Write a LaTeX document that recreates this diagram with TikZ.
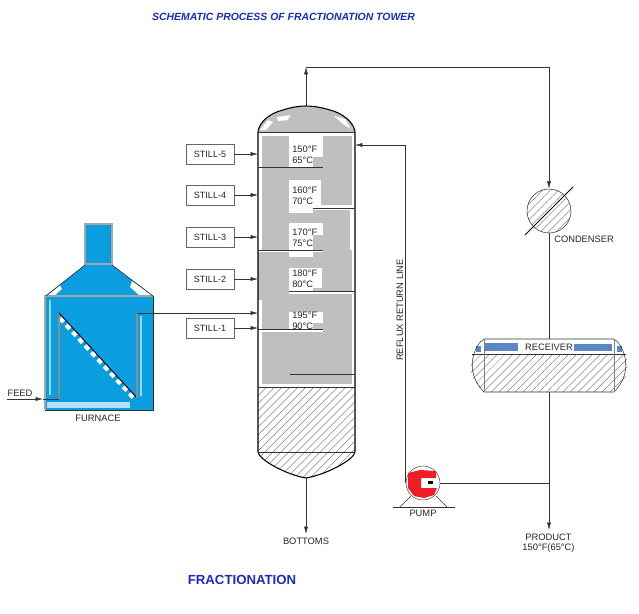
\documentclass[tikz,border=0pt]{standalone}
\usepackage{fontspec}
\setmainfont{Liberation Sans}
\usetikzlibrary{arrows.meta,patterns.meta}
\definecolor{heater}{HTML}{0A9DE0}
\definecolor{stage}{HTML}{BFBFBF}
\definecolor{titleblue}{HTML}{1A2BC4}
\definecolor{drum}{HTML}{5B86C4}
\definecolor{pumpred}{HTML}{EE1C25}
\begin{document}
\begin{tikzpicture}[
  x=0.75pt,y=-0.75pt,
  still/.style={draw=black!60,line width=0.4pt,minimum width=36pt,minimum height=15pt,inner sep=0pt,font=\fontsize{6.8}{7}\selectfont,text=black!85},
  lbl/.style={font=\fontsize{7}{8}\selectfont,text=black!85,inner sep=0pt},
  temp/.style={lbl,align=left,anchor=north west},
  pipe/.style={draw=black!80,line width=0.45pt},
  flow/.style={pipe,-{Latex[length=5.5pt,width=3pt]}},
  vessel/.style={draw=black,line width=0.8pt},
  hatchfill/.style={pattern={Lines[angle=45,distance=4.2pt,line width=0.25pt]},pattern color=black!65},
  gap/.style={fill=white,draw=none},
  tray/.style={draw=black!80,line width=0.5pt},
  title/.style={text=titleblue,inner sep=0pt}
]
  \useasboundingbox (0,0) rectangle (639,614);
  \node[title,font=\fontsize{7.83}{8}\selectfont\bfseries\itshape] (head) at (283.5,17) {SCHEMATIC PROCESS OF FRACTIONATION TOWER};
  \node[title,font=\fontsize{9.9}{11}\selectfont\bfseries] (foot) at (242,580) {FRACTIONATION};

  % tower
  \fill[stage] (258,132) .. controls (259,122) and (270,113) .. (283,110) .. controls (292,107) and (300,106) .. (306,106) .. controls (312,106) and (320,107) .. (330,110) .. controls (342,113) and (354,122) .. (355,132) -- cycle;
  \fill[white] (260,130) -- (268,120) -- (273,122) -- (266,130) -- cycle;
  \fill[white] (277,117) -- (290,115) -- (288,120) -- (278,121) -- cycle;
  \fill[white] (334,116) -- (345,119) -- (351,129) -- (343,124) -- cycle;
  \fill[stage] (262,136) rectangle (352,384);
  \fill[stage] (258,252) rectangle (262,300);
  \fill[gap] (289,136) rectangle (323,157);
  \fill[gap] (289,157) rectangle (313,167);
  \fill[gap] (289,180) rectangle (321,205);
  \fill[gap] (289,205) rectangle (313,213);
  \fill[gap] (289,223) rectangle (323,235);
  \fill[gap] (289,235) rectangle (313,257);
  \fill[gap] (289,268) rectangle (322,288);
  \fill[gap] (289,288) rectangle (313,291);
  \fill[gap] (289,291) rectangle (352,294);
  \fill[gap] (289,312) rectangle (323,323);
  \fill[gap] (289,323) rectangle (313,332);
  \fill[gap] (258,329) rectangle (323,332);
  \fill[gap] (258,250) rectangle (323,252);
  \fill[gap] (313,205) rectangle (352,210);
  \fill[gap] (350,210) rectangle (352,250);
  \fill[hatchfill] (258,387) -- (355,387) -- (355,452) .. controls (354,460) and (325,475) .. (306,478) .. controls (287,475) and (259,460) .. (258,452) -- cycle;
  \draw[vessel] (258,452) -- (258,132) .. controls (259,122) and (270,113) .. (283,110) .. controls (292,107) and (300,106) .. (306,106) .. controls (312,106) and (320,107) .. (330,110) .. controls (342,113) and (354,122) .. (355,132) -- (355,452) .. controls (354,460) and (325,475) .. (306,478) .. controls (287,475) and (259,460) .. (258,452);
  \draw[pipe] (258,132) -- (355,132);
  \draw[pipe,line width=0.3pt] (258,387) -- (355,387);
  \draw[pipe] (258,452) -- (355,452);
  \draw[tray] (258,167) -- (323,167);
  \draw[tray] (313,208) -- (355,208);
  \draw[tray] (258,250) -- (323,250);
  \draw[tray] (289,291) -- (355,291);
  \draw[tray] (258,329) -- (323,329);
  \draw[tray] (290,374) -- (355,374);
  \node[temp] (t5) at (292,146) {150°F\\65°C};
  \node[temp] (t4) at (292,187) {160°F\\70°C};
  \node[temp] (t3) at (292,229) {170°F\\75°C};
  \node[temp] (t2) at (292,270) {180°F\\80°C};
  \node[temp] (t1) at (292,312) {195°F\\90°C};

  % stills
  \node[still] (s5) at (210,154) {STILL-5};
  \node[still] (s4) at (210,195) {STILL-4};
  \node[still] (s3) at (210,237) {STILL-3};
  \node[still] (s2) at (210,279) {STILL-2};
  \node[still] (s1) at (210,328) {STILL-1};
  \coordinate (d5) at (258,154);
  \coordinate (d4) at (258,195);
  \coordinate (d3) at (258,237);
  \coordinate (d2) at (258,279);
  \coordinate (d1) at (258,328);
  \draw[flow] (s5) -- (d5);
  \draw[flow] (s4) -- (d4);
  \draw[flow] (s3) -- (d3);
  \draw[flow] (s2) -- (d2);
  \draw[flow] (s1) -- (d1);

  % furnace
  \fill[heater] (85,224) rectangle (112,265);
  \fill[heater] (85,265) -- (112,265) -- (153,296) -- (153,410) -- (45,410) -- (45,296) -- cycle;
  \fill[white] (46,296) -- (60,285) -- (62,289) -- (54,296) -- cycle;
  \fill[white] (153,296) -- (132,281) -- (130,287) -- (140,296) -- cycle;
  \fill[white!70!heater] (47,402) rectangle (130,408);
  \draw[white!60!heater,line width=1.5pt] (50,300) -- (50,395);
  \draw[white!60!heater,line width=1.5pt] (141,316) -- (141,396);
  \draw[white,line width=3.5pt,dash pattern=on 4pt off 3pt] (60,318) -- (134,398);
  \draw[black!35,line width=1pt] (85,264) -- (85,224) -- (112,224) -- (112,264) -- cycle;
  \draw[black!35,line width=1pt] (45,410) -- (45,296) -- (153,296);
  \draw[black!80,line width=0.5pt] (85,265) -- (46,296);
  \draw[black!80,line width=0.5pt] (112,265) -- (153,296);
  \draw[black!80,line width=0.5pt] (45,410) -- (153,410) -- (153,296);
  \node[lbl] (feed) at (20,393) {FEED};
  \node[lbl] (furn) at (98,418) {FURNACE};
  \coordinate (f0) at (7,399);
  \coordinate (f1) at (43,399);
  \coordinate (f2) at (59,399);
  \coordinate (f3) at (59,313);
  \coordinate (f4) at (137,398);
  \coordinate (f5) at (137,313);
  \coordinate (f6) at (258,313);
  \draw[flow] (f0) -- (f1);
  \draw[pipe] (f1) -- (f2);
  \draw[black!45,line width=1.1pt] (f2) -- (f3);
  \draw[black,line width=0.7pt] (f3) -- (f4);
  \draw[black!45,line width=1.1pt] (f4) -- (f5);
  \draw[flow] (f5) -- (f6);

  % overhead and condenser
  \node[draw=black!80,line width=0.4pt,circle,minimum size=33pt,inner sep=0pt,hatchfill] (cond) at (549,211) {};
  \node[lbl,anchor=west] (condl) at (554,239) {CONDENSER};
  \coordinate (o0) at (306,106);
  \coordinate (o1) at (306,67);
  \coordinate (o2) at (549,67);
  \draw[flow] (o0) -- (o1);
  \draw[pipe] (o1) -- (o2);
  \draw[flow] (o2) -- (cond.north);
  \coordinate (c0) at (525,235);
  \coordinate (c1) at (573,187);
  \draw[black,line width=0.6pt] (c0) -- (c1);

  % receiver
  \fill[hatchfill] (473,354) -- (625,354) .. controls (630,368) and (628,380) .. (614,392) -- (484,392) .. controls (470,380) and (468,368) .. (473,354) -- cycle;
  \fill[drum] (485,343) rectangle (518,351);
  \fill[drum] (574,344) rectangle (612,351);
  \fill[drum] (476,346) rectangle (481,352);
  \fill[drum] (617,346) rectangle (622,352);
  \draw[black!80,line width=0.4pt] (484,339) -- (614,339) .. controls (622,343) and (636,370) .. (614,392) -- (484,392) .. controls (462,370) and (476,343) .. (484,339) -- cycle;
  \draw[black!80,line width=0.4pt] (472,354) -- (626,354);
  \draw[black!50,line width=0.3pt] (484,339) -- (484,392);
  \draw[black!50,line width=0.3pt] (614,339) -- (614,392);
  \node[lbl] (recv) at (549,347) {RECEIVER};
  \coordinate (r0) at (549,339);
  \coordinate (r1) at (549,392);
  \coordinate (r2) at (549,530);
  \draw[pipe] (cond.south) -- (r0);
  \draw[flow] (r1) -- (r2);
  \node[lbl] (prod) at (548.5,537.5) {PRODUCT};
  \node[lbl] (prodt) at (548.5,548) {150°F(65°C)};

  % pump
  \node[draw=black!70,line width=0.4pt,circle,minimum size=25.5pt,inner sep=0pt] (pump) at (423,483) {};
  \fill[pumpred] (408,473) -- (420,470) -- (436,471) -- (436,478) -- (421,478) -- (421,488) -- (437,488) -- (434,495) -- (424,498) -- (414,496) -- (408,488) -- cycle;
  \fill[black] (428,481) rectangle (433,484);
  \node[lbl] (pumpl) at (423,513) {PUMP};
  \coordinate (b0) at (393,507);
  \coordinate (b1) at (455,507);
  \coordinate (l0) at (400,507);
  \coordinate (l1) at (411,496);
  \coordinate (l2) at (447,507);
  \coordinate (l3) at (436,496);
  \draw[pipe] (b0) -- (b1);
  \draw[pipe] (l0) -- (l1);
  \draw[pipe] (l2) -- (l3);
  \coordinate (p0) at (549,483);
  \draw[pipe] (pump.east) -- (p0);
  \coordinate (m1) at (355,145);
  \draw[flow] (pump.west) |- (m1);
  \node[lbl,rotate=90] (refl) at (400,310) {REFLUX RETURN LINE};
  \node[lbl] (bot) at (306,541) {BOTTOMS};
  \coordinate (v0) at (306,478);
  \coordinate (v1) at (306,534);
  \draw[flow] (v0) -- (v1);
\end{tikzpicture}
\end{document}
